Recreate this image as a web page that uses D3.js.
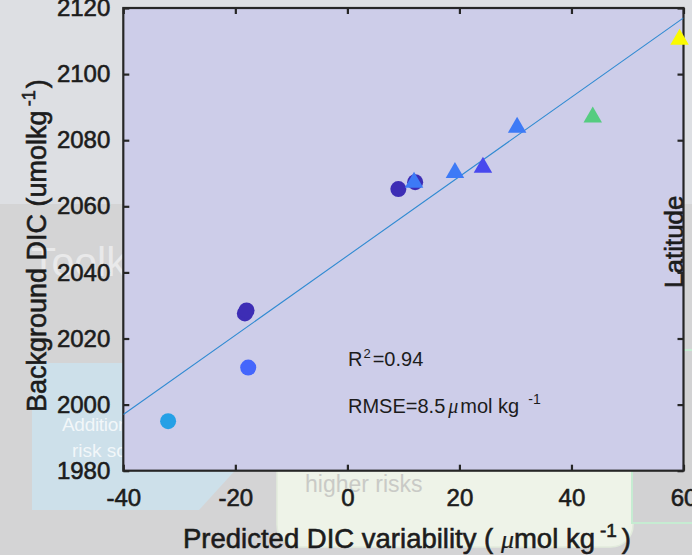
<!DOCTYPE html>
<html>
<head>
<meta charset="utf-8">
<script src="https://cdn.jsdelivr.net/npm/d3@7"></script>
<style>
  html, body { margin: 0; padding: 0; background: #dddfe3; }
  svg { display: block; }
</style>
</head>
<body>
<svg id="chart" width="692" height="555"></svg>
<script>
// ---- data ----------------------------------------------------------------
// Stations drawn as circles: predicted variability (x), background DIC (y), latitude
const circleX   = [-32.0, -17.7, -18.3, -18.0, 9.1, 12.1];
const circleY   = [1995.0, 2011.2, 2027.6, 2028.5, 2065.2, 2067.3];
const circleLat = [27, 23, 20, 20, 20, 20];

// Stations drawn as triangles
const triX   = [11.9, 19.2, 24.2, 30.3, 43.8, 59.3];
const triY   = [2068.0, 2071.0, 2072.6, 2084.7, 2087.8, 2111.3];
const triLat = [24, 24, 22, 24, 32, 40];

const xTicks = [-40, -20, 0, 20, 40, 60];
const yTicks = [1980, 2000, 2020, 2040, 2060, 2080, 2100, 2120];

// Linear fit and its statistics
const fitSlope = 1.2;
const fitIntercept = 2045;
const r2 = 0.94;
const rmse = 8.5;

// ---- layout ---------------------------------------------------------------
const W = 692, H = 555;
const P = { left: 123.3, right: 683.5, top: 8, bottom: 470.7 };
const FONT = "'Liberation Sans', Arial, Helvetica, sans-serif";
const SERIF = "'Liberation Serif', 'DejaVu Serif', serif";
const INK = "#1c1c1c";

const svg = d3.select("#chart");

const x = d3.scaleLinear().domain([-40, 60]).range([P.left, P.right]);
const y = d3.scaleLinear().domain([1980, 2120]).range([P.bottom, P.top]);

// parula-like colormap over latitude
const latDomain = [20, 40];
const cmapT = [0, 0.1, 0.15, 0.2, 0.35, 0.6, 0.8, 1];
const cmapC = ["#3d2db5", "#4848ee", "#4466fc", "#3d7af6", "#25a0e6", "#55cc80", "#c8d846", "#fafa00"];
const latToT = d3.scaleLinear().domain(latDomain).range([0, 1]);
const cmap = d3.scaleLinear().domain(cmapT).range(cmapC).interpolate(d3.interpolateRgb);
const color = lat => cmap(latToT(lat));

// heavier glyphs for the axis text
const heavy = sel => sel.attr("stroke", INK).attr("stroke-width", 0.6).attr("paint-order", "stroke");

// ---- backdrop (slide behind the figure) -----------------------------------
const bg = svg.append("g");
bg.append("rect").attr("x", 0).attr("y", 0).attr("width", W).attr("height", H).attr("fill", "#dddfe3");
bg.append("rect").attr("x", 0).attr("y", 204).attr("width", W).attr("height", H - 204).attr("fill", "#d4d4d5");
bg.append("polygon")
  .attr("points", "32,363 260,363 260,443 199,510 32,510")
  .attr("fill", "#cde0ea");
bg.append("rect")
  .attr("x", 277).attr("y", 380).attr("width", 356).attr("height", 167).attr("rx", 22)
  .attr("fill", "#eef3e8").attr("stroke", "#e2ebdc").attr("stroke-width", 1.5);
bg.append("rect")
  .attr("x", 632).attr("y", 350).attr("width", 70).attr("height", 173)
  .attr("fill", "#d2d2d3").attr("stroke", "#c6ecd2").attr("stroke-width", 2);
bg.append("text").attr("x", 31).attr("y", 276)
  .attr("font-family", FONT).attr("font-size", 41)
  .attr("fill", "#ffffff").attr("fill-opacity", 0.5).text("Toolkit");
bg.append("text").attr("x", 62).attr("y", 431)
  .attr("font-family", FONT).attr("font-size", 19).attr("letter-spacing", -0.3)
  .attr("fill", "#ffffff").attr("fill-opacity", 0.75).text("Additional");
bg.append("text").attr("x", 72).attr("y", 457)
  .attr("font-family", FONT).attr("font-size", 19)
  .attr("fill", "#ffffff").attr("fill-opacity", 0.75).text("risk scores");
bg.append("text").attr("x", 305).attr("y", 492)
  .attr("font-family", FONT).attr("font-size", 23)
  .attr("fill", "#c9cac6").text("higher risks");

// ---- plot area ------------------------------------------------------------
svg.append("rect")
  .attr("x", P.left).attr("y", P.top)
  .attr("width", P.right - P.left).attr("height", P.bottom - P.top)
  .attr("fill", "#cdcde9");

// colorbar title
svg.append("text")
  .attr("transform", `translate(683,288) rotate(-90)`)
  .attr("font-family", FONT).attr("font-size", 26).attr("fill", INK)
  .call(heavy)
  .text("Latitude");

// ---- axes -----------------------------------------------------------------
const fmt = d => String(d);
function styleAxis(g) {
  g.select(".domain").remove();
  g.selectAll(".tick line").attr("stroke", "#262626").attr("stroke-width", 2.2);
  g.selectAll(".tick text").attr("font-family", FONT).attr("font-size", 24).attr("fill", INK).call(heavy);
}
svg.append("g").attr("transform", `translate(0,${P.bottom})`)
  .call(d3.axisBottom(x).tickValues(xTicks).tickFormat(fmt).tickSizeInner(-6).tickSizeOuter(0).tickPadding(18))
  .call(styleAxis);
svg.append("g").attr("transform", `translate(${P.left},0)`)
  .call(d3.axisLeft(y).tickValues(yTicks).tickFormat(fmt).tickSizeInner(-6).tickSizeOuter(0).tickPadding(13))
  .call(styleAxis);
svg.append("g").attr("transform", `translate(0,${P.top})`)
  .call(d3.axisTop(x).tickValues(xTicks).tickFormat("").tickSizeInner(-6).tickSizeOuter(0))
  .call(styleAxis);
svg.append("g").attr("transform", `translate(${P.right},0)`)
  .call(d3.axisRight(y).tickValues(yTicks).tickFormat("").tickSizeInner(-6).tickSizeOuter(0))
  .call(styleAxis);

svg.append("rect")
  .attr("x", P.left).attr("y", P.top)
  .attr("width", P.right - P.left).attr("height", P.bottom - P.top)
  .attr("fill", "none").attr("stroke", "#262626").attr("stroke-width", 2.2);

// ---- fit line -------------------------------------------------------------
svg.append("clipPath").attr("id", "plotClip")
  .append("rect").attr("x", P.left).attr("y", P.top)
  .attr("width", P.right - P.left).attr("height", P.bottom - P.top);
const fitLine = x.domain().map(v => [v, fitSlope * v + fitIntercept]);
svg.append("path")
  .datum(fitLine)
  .attr("clip-path", "url(#plotClip)")
  .attr("d", d3.line().x(d => x(d[0])).y(d => y(d[1])))
  .attr("fill", "none").attr("stroke", "#2f8ad2").attr("stroke-width", 1.1);

// ---- markers --------------------------------------------------------------
const circles = circleX.map((v, i) => ({ x: v, y: circleY[i], lat: circleLat[i] }));
const triangles = triX.map((v, i) => ({ x: v, y: triY[i], lat: triLat[i] }));

svg.append("g").selectAll("circle").data(circles).join("circle")
  .attr("cx", d => x(d.x)).attr("cy", d => y(d.y)).attr("r", 8)
  .attr("fill", d => color(d.lat));

const tw = 18.5, th = 16;
const triPath = `M0,${-th / 2}L${tw / 2},${th / 2}L${-tw / 2},${th / 2}Z`;
svg.append("g").selectAll("path").data(triangles).join("path")
  .attr("transform", d => `translate(${x(d.x)},${y(d.y)})`)
  .attr("d", triPath)
  .attr("fill", d => color(d.lat));

// ---- fit statistics -------------------------------------------------------
const stats = svg.append("g").attr("font-family", FONT).attr("fill", INK);
const t1 = stats.append("text").attr("x", 348).attr("y", 366).attr("font-size", 20);
t1.append("tspan").text("R");
t1.append("tspan").attr("font-size", 13).attr("dx", 1).attr("dy", -8).text("2");
t1.append("tspan").attr("dx", 2).attr("dy", 8).text("=" + r2.toFixed(2));

const t2 = stats.append("text").attr("x", 348).attr("y", 413).attr("font-size", 20);
t2.append("tspan").text("RMSE=" + rmse);
t2.append("tspan").attr("dx", 3).attr("font-family", SERIF)
  .attr("font-style", "italic").attr("font-size", 20).text("μ");
t2.append("tspan").attr("dx", 2).text("mol kg");
t2.append("tspan").attr("dx", 9).attr("dy", -9).attr("font-size", 14).text("-1");

// ---- axis titles ----------------------------------------------------------
const xl = svg.append("text").attr("x", 183).attr("y", 548)
  .attr("font-family", FONT).attr("font-size", 27.5).attr("fill", INK).call(heavy);
xl.append("tspan").text("Predicted DIC variability ( ");
xl.append("tspan").attr("font-family", SERIF)
  .attr("font-style", "italic").attr("font-size", 26).attr("stroke-width", 0.2).text("μ");
xl.append("tspan").text("mol kg");
xl.append("tspan").attr("dx", 5).attr("dy", -11).attr("font-size", 19).text("-1");
xl.append("tspan").attr("dx", 5).attr("dy", 11).text(")");

const yl = svg.append("text").attr("transform", "translate(46,412) rotate(-90)")
  .attr("font-family", FONT).attr("font-size", 27).attr("fill", INK).call(heavy);
yl.append("tspan").text("Background DIC (umolkg");
yl.append("tspan").attr("dx", 4).attr("dy", -11).attr("font-size", 18).text("-1");
yl.append("tspan").attr("dx", 2).attr("dy", 11).text(")");
</script>
</body>
</html>
